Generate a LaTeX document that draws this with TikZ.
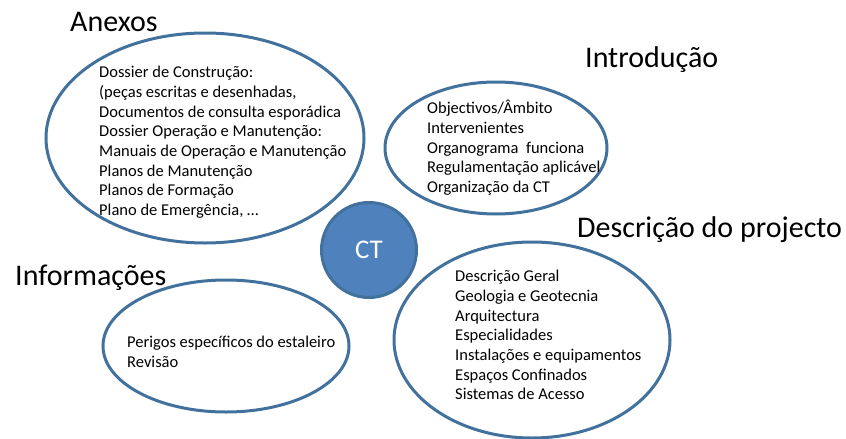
\documentclass[tikz,border=0pt]{standalone}
\usepackage{fontspec}
\setmainfont{Carlito}
\usetikzlibrary{shapes.geometric}
\definecolor{edge}{HTML}{41719C}
\definecolor{ctfill}{HTML}{4F81BD}
\tikzset{
  bubble/.style={ellipse, draw=edge, line width=3pt, inner sep=0pt},
  title/.style={font=\fontsize{30}{36}\selectfont, inner sep=0pt, anchor=west},
  body/.style={font=\fontsize{16.5}{19.7}\selectfont, align=left, inner sep=0pt, anchor=north west},
}
\begin{document}
\begin{tikzpicture}[x=1pt,y=-1pt]
\useasboundingbox (0,0) rectangle (846,439);
% ellipses
\node[bubble, minimum width=318pt, minimum height=210pt] (anx) at (205,138) {};
\node[bubble, minimum width=222pt, minimum height=132pt] (intro) at (496,148) {};
\node[bubble, minimum width=246pt, minimum height=132pt] (info) at (226,346) {};
\node[bubble, minimum width=276pt, minimum height=196pt] (desc) at (532,340) {};
\node[circle, draw=edge, fill=ctfill, line width=3pt, minimum size=95pt, inner sep=0pt,
      text=white, font=\fontsize{27}{30}\selectfont] (ct) at (369,250) {CT};
% titles
\node[title] (tanx) at (70,22) {Anexos};
\node[title] (tintro) at (585,60) {Introdução};
\node[title] (tdesc) at (577,230) {Descrição do projecto};
\node[title] (tinfo) at (15,278) {Informações};
% bodies
\node[body] (banx) at (99,66) {Dossier de Construção:\\(peças escritas e desenhadas,\\Documentos de consulta esporádica\\Dossier Operação e Manutenção:\\Manuais de Operação e Manutenção\\Planos de Manutenção\\Planos de Formação\\Plano de Emergência, \dots};
\node[body] (bintro) at (427,100) {Objectivos/Âmbito\\Intervenientes\\Organograma\ \ funciona\\Regulamentação aplicável\\Organização da CT};
\node[body] (bdesc) at (455,270) {Descrição Geral\\Geologia e Geotecnia\\Arquitectura\\Especialidades\\Instalações e equipamentos\\Espaços Confinados\\Sistemas de Acesso};
\node[body] (binfo) at (127,336) {Perigos específicos do estaleiro\\Revisão};
\end{tikzpicture}
\end{document}
